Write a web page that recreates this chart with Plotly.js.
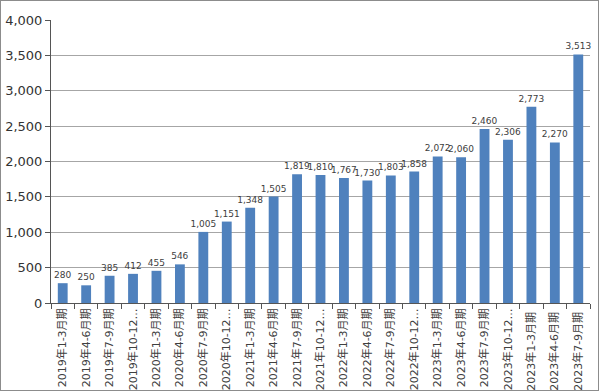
<!DOCTYPE html>
<html><head><meta charset="utf-8">
<script src="https://cdn.plot.ly/plotly-3.0.1.min.js"></script>
<style>html,body{margin:0;padding:0;background:#fff}#c{width:599px;height:391px;box-sizing:border-box;border:1px solid #8c8c8c}</style>
</head><body><div id="c"></div>
<script>
const categories = ["2019年1-3月期","2019年4-6月期","2019年7-9月期","2019年10-12…","2020年1-3月期","2020年4-6月期","2020年7-9月期","2020年10-12…","2021年1-3月期","2021年4-6月期","2021年7-9月期","2021年10-12…","2022年1-3月期","2022年4-6月期","2022年7-9月期","2022年10-12…","2023年1-3月期","2023年4-6月期","2023年7-9月期","2023年10-12…","2023年1-3月期 ","2023年4-6月期 ","2023年7-9月期 "];
const values = [280,250,385,412,455,546,1005,1151,1348,1505,1819,1810,1767,1730,1803,1858,2072,2060,2460,2306,2773,2270,3513];
const yTicks = [0,500,1000,1500,2000,2500,3000,3500,4000];
const yTickLabels = ["0","500","1,000","1,500","2,000","2,500","3,000","3,500","4,000"];

const fontFam = "DejaVu Sans, Noto Sans CJK JP, sans-serif";
Plotly.newPlot('c', [{
  type: 'bar', x: categories, y: values,
  marker: {color: '#4f81bd'},
  text: values.map(v => v.toLocaleString('en-US')),
  textposition: 'outside', constraintext: 'none', cliponaxis: false,
  textfont: {family: fontFam, size: 9, color: '#404040'},
  width: 0.42
}], {
  width: 597, height: 389,
  margin: {l: 50, r: 8, t: 19, b: 87},
  paper_bgcolor: '#fff', plot_bgcolor: '#fff',
  showlegend: false,
  font: {family: fontFam, color: '#404040'},
  xaxis: {type: 'category', tickangle: -90, tickfont: {size: 11, color: '#404040'},
    showline: true, linecolor: '#555', linewidth: 1,
    ticks: 'outside', tickson: 'boundaries', ticklen: 5, tickcolor: '#555',
    showgrid: false, fixedrange: true},
  yaxis: {range: [0, 4000], tickvals: yTicks, ticktext: yTickLabels,
    tickfont: {size: 13, color: '#333'},
    showline: true, linecolor: '#555', linewidth: 1,
    ticks: 'outside', ticklen: 5, tickcolor: '#555',
    showgrid: true, gridcolor: '#a6a6a6', gridwidth: 1, zeroline: false, fixedrange: true}
}, {displayModeBar: false, staticPlot: true});
</script></body></html>
